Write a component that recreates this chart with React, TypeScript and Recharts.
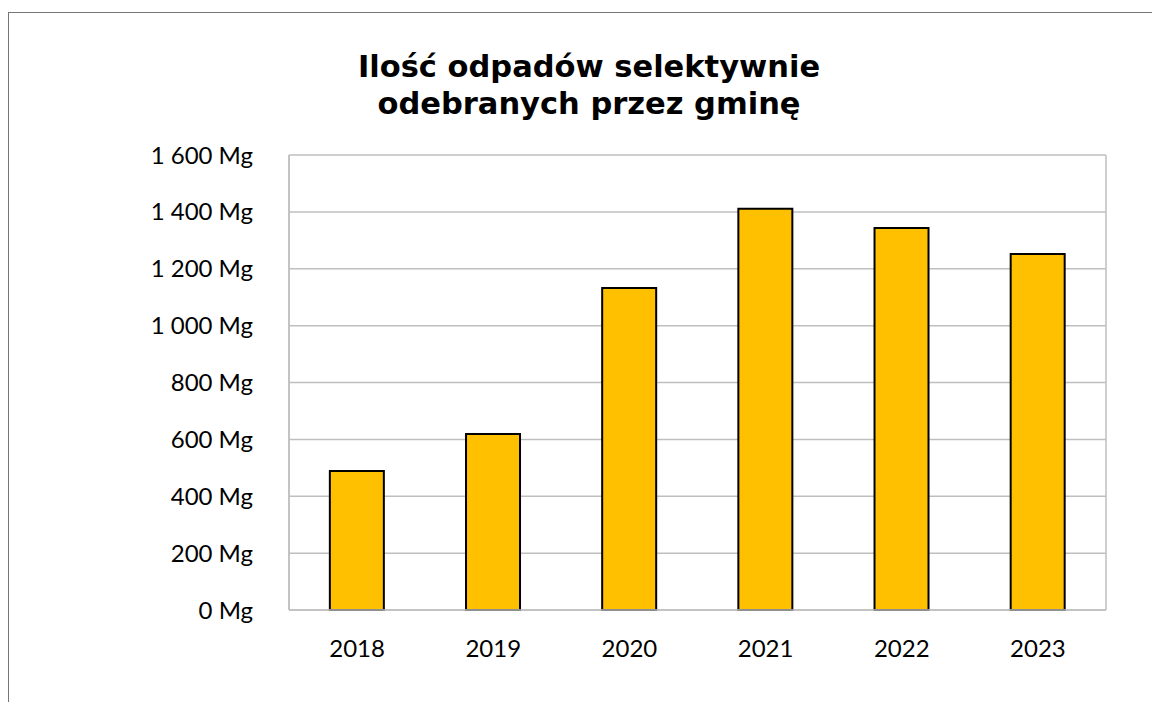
import { BarChart, Bar, XAxis, YAxis, CartesianGrid } from 'recharts';

const years = ['2018', '2019', '2020', '2021', '2022', '2023'];
const amounts = [489, 619, 1132, 1411, 1343, 1252];
const yTicks = [0, 200, 400, 600, 800, 1000, 1200, 1400, 1600];

const data = years.map((year, i) => ({ year, value: amounts[i] }));

const formatMg = (v: number) =>
    `${String(v).replace(/\B(?=(\d{3})+(?!\d))/g, ' ')} Mg`;

const tickStyle = { fontSize: 24, fill: '#000', fontFamily: 'Lato, "Open Sans", sans-serif' };

export default function App() {
    return (
        <div
            style={{
                position: 'absolute',
                left: 0,
                top: 0,
                width: 1152,
                height: 702,
                overflow: 'hidden',
                background: '#fff',
            }}
        >
            <div
                style={{
                    position: 'absolute',
                    left: 8,
                    top: 12,
                    width: 1200,
                    height: 760,
                    borderLeft: '1.5px solid #767676',
                    borderTop: '1.5px solid #767676',
                }}
            />
            <div
                style={{
                    position: 'absolute',
                    left: 0,
                    top: 48,
                    width: 1178,
                    textAlign: 'center',
                    fontFamily: '"DejaVu Sans", Verdana, sans-serif',
                    fontWeight: 'bold',
                    fontSize: 30.5,
                    lineHeight: '37px',
                    color: '#000',
                }}
            >
                Ilość odpadów selektywnie
                <br />
                odebranych przez gminę
            </div>
            <div style={{ position: 'absolute', left: 0, top: 0 }}>
                <BarChart
                    width={1152}
                    height={702}
                    data={data}
                    margin={{ top: 155, right: 46, bottom: 62, left: 0 }}
                    barCategoryGap="30%"
                >
                    <CartesianGrid
                        stroke="#BFBFBF"
                        strokeWidth={1.5}
                        verticalCoordinatesGenerator={({ offset }: any) => [
                            offset.left,
                            offset.left + offset.width,
                        ]}
                    />
                    <XAxis
                        dataKey="year"
                        axisLine={{ stroke: '#BFBFBF', strokeWidth: 1.5 }}
                        tickLine={false}
                        tickMargin={24}
                        tick={tickStyle}
                    />
                    <YAxis
                        width={289}
                        domain={[0, 1600]}
                        ticks={yTicks}
                        tickFormatter={formatMg}
                        axisLine={{ stroke: '#BFBFBF', strokeWidth: 1.5 }}
                        tickLine={false}
                        tickMargin={30}
                        tick={tickStyle}
                    />
                    <Bar
                        dataKey="value"
                        fill="#FFC000"
                        stroke="#000"
                        strokeWidth={2}
                        isAnimationActive={false}
                    />
                </BarChart>
            </div>
        </div>
    );
}
